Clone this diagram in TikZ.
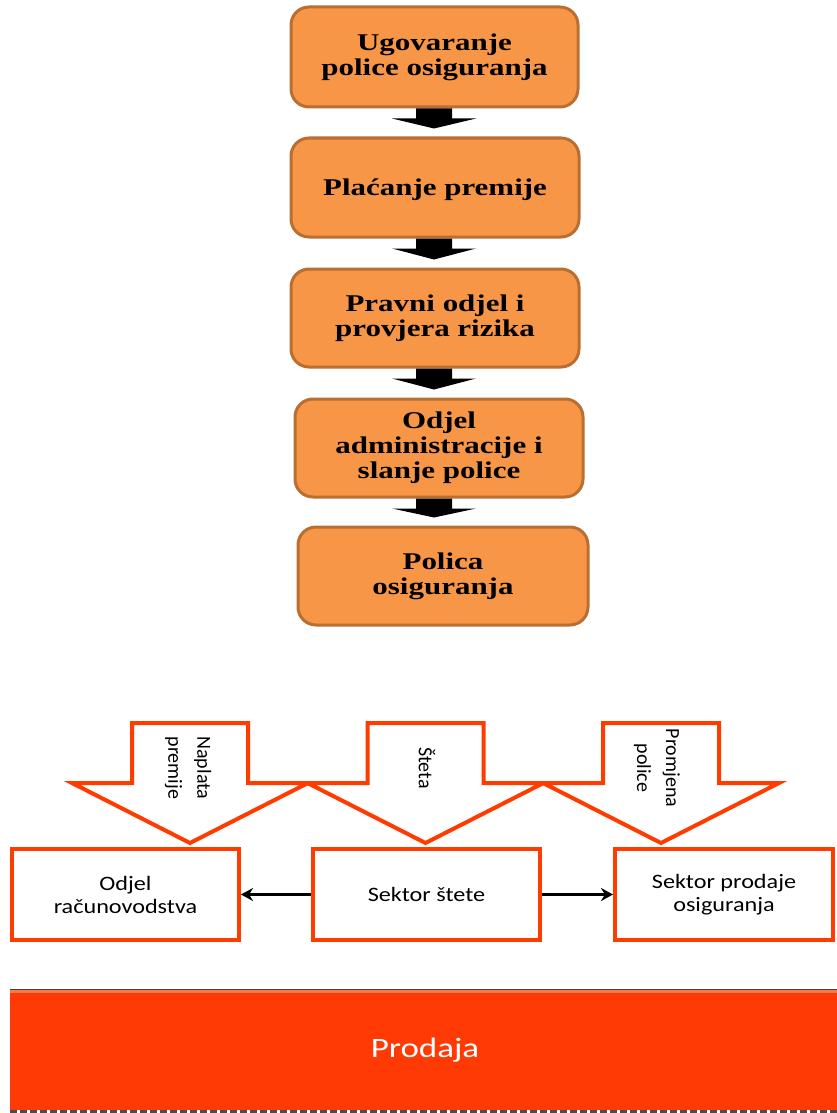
\documentclass[tikz,border=0pt]{standalone}
\usepackage{fontspec}
\usetikzlibrary{calc,arrows.meta}
\newfontfamily\topfont[FakeStretch=1.29]{Liberation Serif}
\newfontfamily\boxfont[FakeStretch=1.18]{Carlito}
\newfontfamily\barfont[FakeStretch=1.25]{Carlito}
\newfontfamily\rotfont{Carlito}
\definecolor{ofill}{RGB}{247,150,70}
\definecolor{oline}{RGB}{185,110,50}
\definecolor{rline}{RGB}{255,60,0}
\definecolor{rbar}{RGB}{255,58,5}
\definecolor{rbarlight}{RGB}{255,120,70}
\newcommand\flowarrow[2]{%
  \fill[black] ($(ax |- #1.south)+(-18,0)$) -- ($(ax |- #1.south)+(18,0)$)
    -- ($(ax |- #1.south)+(18,10)$) -- ($(ax |- #1.south)+(42,10)$)
    -- ($(ax |- #2.north)+(0,-8)$)
    -- ($(ax |- #1.south)+(-42,10)$) -- ($(ax |- #1.south)+(-18,10)$) -- cycle;}
\newcommand\inarrow[1]{%
  \draw[blockin] (#1-58,723) -- (#1+58,723) -- (#1+58,783) -- (#1+118,783)
    -- (#1,843) -- (#1-118,783) -- (#1-58,783) -- cycle;}
\begin{document}
\begin{tikzpicture}[x=1pt,y=-1pt,
  stepbox/.style={draw=oline, fill=ofill, line width=3pt, rounded corners=18pt,
    inner sep=0pt, align=center, font=\topfont\bfseries\fontsize{24}{25}\selectfont,
    execute at begin node=\rule{0pt}{21pt}},
  dept/.style={draw=rline, line width=4pt, fill=white, inner sep=0pt, align=center,
    minimum height=91pt, font=\boxfont\fontsize{20.5}{23}\selectfont},
  blockin/.style={draw=rline, line width=4pt, fill=white, line join=miter},
  intext/.style={rotate=-90, align=center, inner sep=0pt, font=\rotfont\fontsize{20}{29}\selectfont},
  link/.style={-{Stealth[length=12pt,width=13pt]}, line width=3pt, black},
  barbox/.style={fill=rbar, inner sep=0pt, text=white, font=\barfont\fontsize{28}{30}\selectfont}
]
\fill[white] (0,0) rectangle (836,1113);
\useasboundingbox (0,0) rectangle (836,1113);
\coordinate (ax) at (434,0);

% top flow
\node[stepbox, minimum width=287pt, minimum height=100pt] (b1) at (434.5,57) {Ugovaranje\\police osiguranja};
\node[stepbox, minimum width=288pt, minimum height=99pt] (b2) at (435,187.5) {Plaćanje premije};
\node[stepbox, minimum width=288pt, minimum height=98pt] (b3) at (435,318) {Pravni odjel i\\provjera rizika};
\node[stepbox, minimum width=288pt, minimum height=98pt] (b4) at (439,448) {Odjel\\administracije i\\slanje police};
\node[stepbox, minimum width=290pt, minimum height=98pt] (b5) at (443,576) {Polica\\osiguranja};
\flowarrow{b1}{b2}
\flowarrow{b2}{b3}
\flowarrow{b3}{b4}
\flowarrow{b4}{b5}

% bottom block arrows
\inarrow{190}
\inarrow{425.5}
\inarrow{661}
\node[intext] (t1) at (188,768) {Naplata\\premije};
\node[intext] (t2) at (427,768) {Šteta};
\node[intext] (t3) at (657,768) {Promjena\\police};

% departments
\node[dept, minimum width=227pt] (acc) at (125.5,894.5) {Odjel\\računovodstva};
\node[dept, minimum width=227pt] (dmg) at (426.5,894.5) {Sektor štete};
\node[dept, minimum width=218pt] (sal) at (724,894.5) {Sektor prodaje\\osiguranja};
\draw[link] (dmg.west) -- (acc.east);
\draw[link] (dmg.east) -- (sal.west);

% bar
\node[barbox, minimum width=830pt, minimum height=120pt] (bar) at (425,1050) {Prodaja};
\draw[black!75, line width=1pt] (bar.north west) -- (bar.north east);
\fill[rbarlight] ($(bar.north west)+(0,0.5)$) rectangle ($(bar.north east)+(0,3.5)$);
\draw[black!70, line width=3pt, dash pattern=on 7pt off 3pt] ($(bar.south west)+(0,1.5)$) -- ($(bar.south east)+(0,1.5)$);
\end{tikzpicture}
\end{document}
